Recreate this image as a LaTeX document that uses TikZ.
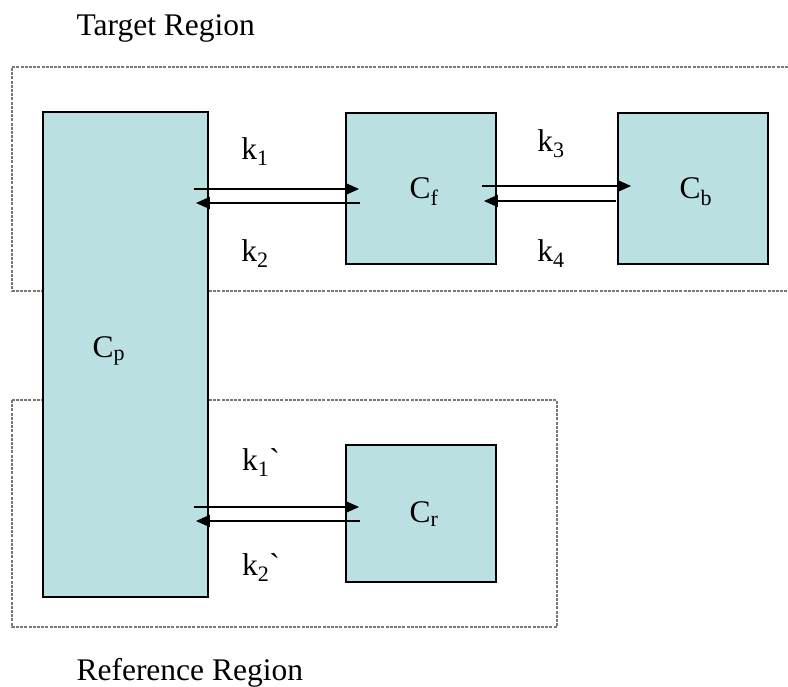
\documentclass[tikz,border=0pt]{standalone}
\usepackage{fontspec}
\setmainfont{Liberation Serif}
\usetikzlibrary{arrows.meta,calc}
\definecolor{boxfill}{RGB}{187,224,226}
\definecolor{regiongray}{RGB}{120,120,120}

\begin{document}
\begin{tikzpicture}[
        x=1pt, y=-1pt,
        every node/.style={font=\fontsize{31.5}{36}\selectfont},
        compartment/.style={
            draw=black,
            line width=1.8pt,
            fill=boxfill,
            inner sep=0pt
        },
        region/.style={
            draw=regiongray,
            line width=1.8pt,
            dash pattern=on 3pt off 1.2pt
        },
        rate/.style={
            line width=1.7pt,
            -{Triangle[length=14pt,width=12pt]}
        }
    ]
    \useasboundingbox (0,0) rectangle (788,687);

    % region frames, behind the compartments
    \draw[region] (788,67) -- (12,67) -- (12,291) -- (788,291);
    \draw[region] (12,400) rectangle (557,627);

    \node[compartment, minimum width=165pt, minimum height=485pt] (cp) at (125.5,354.5) {};
    \node[compartment, minimum width=150pt, minimum height=151pt] (cf) at (421,188.5) {};
    \node[compartment, minimum width=150pt, minimum height=151pt] (cb) at (693,188.5) {};
    \node[compartment, minimum width=150pt, minimum height=137pt] (cr) at (421,513.5) {};

    \node (cplabel) at (109,351) {C\textsubscript{p}};
    \node (cflabel) at (424,192) {C\textsubscript{f}};
    \node (cblabel) at (696,192) {C\textsubscript{b}};
    \node (crlabel) at (424,514) {C\textsubscript{r}};

    % exchange between compartments
    \draw[rate] ($(cp.east |- cf.west)+(-15,0.5)$) -- ($(cf.west)+(14,0.5)$);
    \draw[rate] ($(cf.west)+(15,14.5)$) -- ($(cp.east |- cf.west)+(-13,14.5)$);
    \draw[rate] ($(cf.east)+(-15,-2.5)$) -- ($(cb.west)+(14,-2.5)$);
    \draw[rate] ($(cb.west)+(-1,12.5)$) -- ($(cf.east)+(-13,12.5)$);
    \draw[rate] ($(cp.east |- cr.west)+(-15,-6.5)$) -- ($(cr.west)+(14,-6.5)$);
    \draw[rate] ($(cr.west)+(15,7.5)$) -- ($(cp.east |- cr.west)+(-13,7.5)$);

    \node (k1) at (255,152) {k\textsubscript{1}};
    \node (k2) at (255,254) {k\textsubscript{2}};
    \node (k3) at (551,144) {k\textsubscript{3}};
    \node (k4) at (551,254) {k\textsubscript{4}};
    \node (k1r) at (261,463) {k\textsubscript{1}\textasciigrave};
    \node (k2r) at (261,568) {k\textsubscript{2}\textasciigrave};

    \node[anchor=base west] (target) at (73,36) {Target Region};
    \node[anchor=base west] (reference) at (73,680) {Reference Region};
\end{tikzpicture}
\end{document}
